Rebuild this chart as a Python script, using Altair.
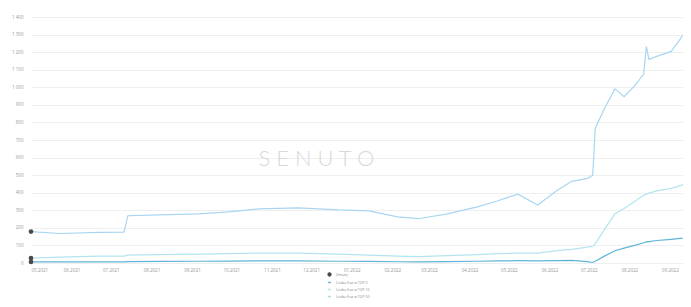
import altair as alt
import pandas as pd

dates = ["2021-05-01", "2021-05-23", "2021-06-22", "2021-07-11", "2021-07-14", "2021-08-07",
         "2021-09-06", "2021-09-29", "2021-10-22", "2021-11-21", "2021-12-22", "2022-01-14",
         "2022-02-05", "2022-02-21", "2022-03-15", "2022-04-07", "2022-04-22", "2022-05-08",
         "2022-05-23", "2022-06-07", "2022-06-18", "2022-06-30", "2022-07-04", "2022-07-06",
         "2022-07-13", "2022-07-21", "2022-07-28", "2022-08-05", "2022-08-12", "2022-08-14",
         "2022-08-16", "2022-08-22", "2022-09-02", "2022-09-09", "2022-09-11"]

top50 = [179, 168, 174, 176, 269, 274, 280, 291, 308, 314, 302, 297,
         263, 252, 280, 319, 353, 392, 330, 414, 465, 482, 498, 767,
         879, 991, 946, 1008, 1075, 1232, 1159, 1176, 1204, 1276, 1299]
top10 = [28, 34, 39, 39, 45, 48, 50, 53, 56, 56, 50, 45,
         39, 36, 42, 48, 53, 56, 56, 70, 78, 90, 95, 110,
         190, 280, 310, 350, 385, 392, 398, 410, 425, 440, 448]
top3 = [6, 6, 6, 6, 8, 9, 10, 11, 12, 12, 10, 9,
        7, 6, 8, 10, 12, 13, 12, 14, 15, 8, 3, 10,
        39, 70, 85, 100, 115, 120, 122, 128, 135, 140, 141]

series_names = ["Zmiany", "Liczba fraz w TOP 3", "Liczba fraz w TOP 10", "Liczba fraz w TOP 50"]
series_colors = ["#4a4a4a", "#5fb4d6", "#b3e4ef", "#a8d6f1"]
series_shapes = ["circle", "stroke", "stroke", "stroke"]

rows = []
for name, vals in [(series_names[1], top3), (series_names[2], top10), (series_names[3], top50)]:
    for d, v in zip(dates, vals):
        rows.append({"date": d, "value": v, "series": name})
df = pd.DataFrame(rows)

marks_df = pd.DataFrame({
    "date": [dates[0]] * 3,
    "value": [top50[0], top10[0], top3[0]],
    "series": [series_names[0]] * 3,
})

wm_df = pd.DataFrame({"date": ["2021-12-05"], "value": [590], "label": ["S E N U T O"]})

legend = alt.Legend(
    title=None, orient="none", legendX=296, legendY=255, direction="vertical",
    labelFontSize=3.5, labelColor="#888888", symbolSize=8, rowPadding=0,
    labelLimit=200, symbolStrokeWidth=1.5, padding=0,
)
color_scale = alt.Scale(domain=series_names, range=series_colors)

xenc = alt.X(
    "date:T",
    title=None,
    scale=alt.Scale(domain=["2021-05-01", "2022-09-11"]),
    axis=alt.Axis(grid=False, domain=False, ticks=False, labelFontSize=4.5,
                  labelColor="#999999", format="%m.%Y", labelPadding=4,
                  labelOverlap=False,
                  tickCount={"interval": "month", "step": 1}),
)
yenc = alt.Y(
    "value:Q",
    title=None,
    scale=alt.Scale(domain=[0, 1400], nice=False),
    axis=alt.Axis(values=list(range(0, 1401, 100)), domain=False, ticks=False,
                  labelFontSize=4.5, labelColor="#999999", gridColor="#efefef",
                  labelPadding=8, labelOverlap=False,
                  labelExpr="replace(format(datum.value, ','), ',', ' ')"),
)

lines = alt.Chart(df).mark_line(strokeWidth=1.2, interpolate="linear").encode(
    x=xenc, y=yenc, color=alt.Color("series:N", scale=color_scale, legend=legend)
)

watermark = alt.Chart(wm_df).mark_text(
    fontSize=22, color="#d9d9d9", font="Lato", fontWeight=300
).encode(x=xenc, y=yenc, text="label:N")

points = alt.Chart(marks_df).mark_point(filled=True, size=22, opacity=1).encode(
    x=xenc, y=yenc,
    color=alt.Color("series:N", scale=color_scale, legend=legend),
    shape=alt.Shape("series:N", scale=alt.Scale(domain=series_names, range=series_shapes),
                    legend=legend),
)

chart = alt.layer(lines, watermark, points).properties(
    width=652, height=246,
    padding={"left": 23, "top": 9, "right": 0, "bottom": 36},
    autosize=alt.AutoSizeParams(type="none"),
).configure(font="Open Sans").configure_view(stroke=None)

chart.save("out.html", embed_options={"renderer": "svg", "actions": False})
